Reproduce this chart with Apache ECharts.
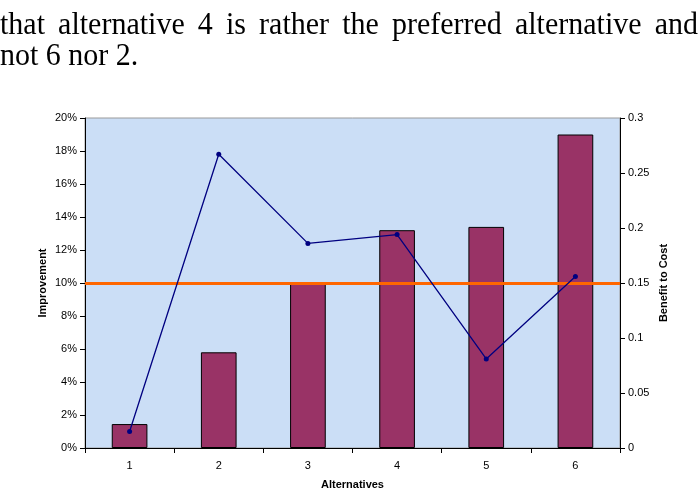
<!DOCTYPE html>
<html>
<head>
<meta charset="utf-8">
<script src="https://cdn.jsdelivr.net/npm/echarts@6/dist/echarts.min.js"></script>
<style>
html,body{margin:0;padding:0;background:#fff;}
#c{width:698px;height:490px;}
</style>
</head>
<body>
<div id="c"></div>
<script>
var categories = ['1', '2', '3', '4', '5', '6'];
var improvement = [1.45, 5.8, 10.0, 13.2, 13.4, 19.0];
var benefitToCost = [0.015, 0.267, 0.186, 0.194, 0.081, 0.156];
var threshold = 10;
var textLine1 = 'that alternative 4 is rather the preferred alternative and';
var textLine2 = 'not 6 nor 2.';

var serifFont = '30px "Liberation Serif", "Times New Roman", serif';
// justify the first paragraph line across the page width
var mctx = document.createElement('canvas').getContext('2d');
mctx.font = serifFont;
var words = textLine1.split(' ');
var widths = words.map(function (w) { return mctx.measureText(w).width; });
var totalW = widths.reduce(function (a, b) { return a + b; }, 0);
var pageW = 698;
var gap = (pageW - totalW) / (words.length - 1);
var graphics = [];
var cx = 0;
words.forEach(function (w, i) {
  graphics.push({type: 'text', x: cx, y: 10, scaleY: 1.05, style: {text: w, font: serifFont, fill: '#000', verticalAlign: 'top'}});
  cx += widths[i] + gap;
});
graphics.push({type: 'text', x: 0, y: 41, scaleY: 1.05, style: {text: textLine2, font: serifFont, fill: '#000', verticalAlign: 'top'}});

var chart = echarts.init(document.getElementById('c'), null, {renderer: 'canvas'});
var labelFont = {color: '#000', fontFamily: 'Liberation Sans, Arial, sans-serif', fontSize: 11};
var nameFont = {color: '#000', fontFamily: 'Liberation Sans, Arial, sans-serif', fontSize: 11, fontWeight: 'bold'};
chart.setOption({
  animation: false,
  backgroundColor: '#fff',
  graphic: graphics,
  grid: {
    left: 85, right: 78, top: 118, bottom: 42,
    outerBoundsMode: 'none',
    containLabel: false,
    show: true, backgroundColor: '#CBDEF6', borderColor: '#9a9a9a', borderWidth: 1
  },
  xAxis: {
    type: 'category',
    data: categories,
    name: 'Alternatives',
    nameLocation: 'middle',
    nameGap: 31,
    nameTextStyle: nameFont,
    axisLine: {lineStyle: {color: '#000', width: 1}},
    axisTick: {show: true, length: 5, lineStyle: {color: '#000'}},
    axisLabel: Object.assign({margin: 12}, labelFont),
    splitLine: {show: false}
  },
  yAxis: [
    {
      type: 'value', min: 0, max: 20, interval: 2,
      name: 'Improvement', nameLocation: 'middle', nameGap: 37, nameRotate: 90,
      nameMoveOverlap: false,
      nameTextStyle: nameFont,
      axisLine: {show: true, lineStyle: {color: '#000'}},
      axisTick: {show: true, length: 5, lineStyle: {color: '#000'}},
      axisLabel: Object.assign({formatter: '{value}%', margin: 8}, labelFont),
      splitLine: {show: false}
    },
    {
      type: 'value', min: 0, max: 0.3, interval: 0.05,
      name: 'Benefit to Cost', nameLocation: 'middle', nameGap: 38, nameRotate: 90,
      nameMoveOverlap: false,
      nameTextStyle: nameFont,
      position: 'right',
      axisLine: {show: true, lineStyle: {color: '#000'}},
      axisTick: {show: true, length: 5, lineStyle: {color: '#000'}},
      axisLabel: Object.assign({margin: 8, formatter: function (v) { return String(+v.toFixed(2)); }}, labelFont),
      splitLine: {show: false}
    }
  ],
  series: [
    {
      type: 'bar',
      data: improvement,
      yAxisIndex: 0,
      barWidth: '40%',
      itemStyle: {color: '#993366', borderColor: '#000', borderWidth: 1},
      markLine: {
        silent: true,
        symbol: 'none',
        label: {show: false},
        lineStyle: {color: '#FF6600', width: 3, type: 'solid'},
        data: [{yAxis: threshold}]
      }
    },
    {
      type: 'line',
      data: benefitToCost,
      yAxisIndex: 1,
      symbol: 'circle',
      symbolSize: 5,
      lineStyle: {color: '#000080', width: 1.3},
      itemStyle: {color: '#000080'},
      z: 5
    }
  ]
});
</script>
</body>
</html>
